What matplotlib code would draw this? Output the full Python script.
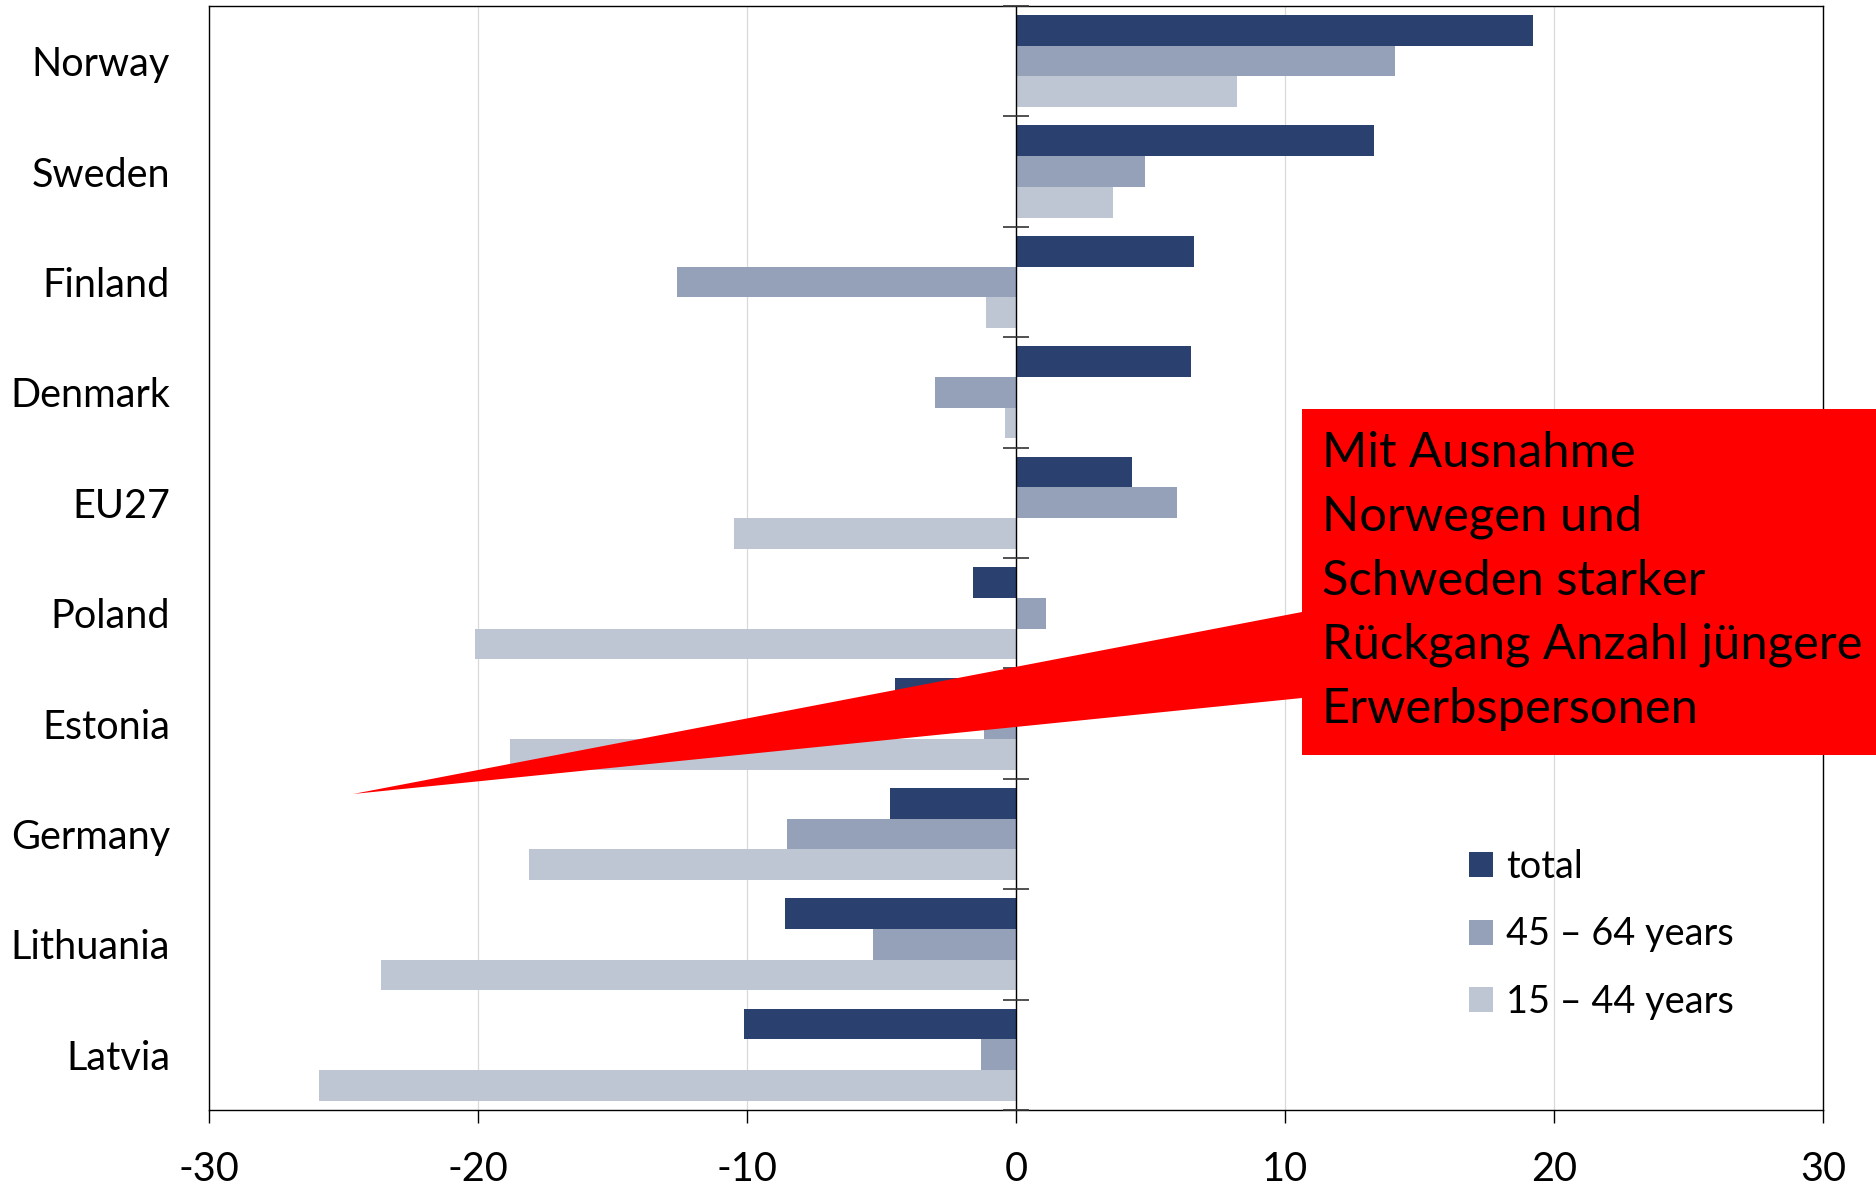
import numpy as np
import matplotlib.pyplot as plt
from matplotlib.patches import Patch, Polygon

plt.rcParams['font.family'] = ['Lato', 'DejaVu Sans']
plt.rcParams['axes.unicode_minus'] = False

countries = ['Norway', 'Sweden', 'Finland', 'Denmark', 'EU27',
             'Poland', 'Estonia', 'Germany', 'Lithuania', 'Latvia']
total = [19.2, 13.3, 6.6, 6.5, 4.3, -1.6, -4.5, -4.7, -8.6, -10.1]
age_45_64 = [14.1, 4.8, -12.6, -3.0, 6.0, 1.1, -1.2, -8.5, -5.3, -1.3]
age_15_44 = [8.2, 3.6, -1.1, -0.4, -10.5, -20.1, -18.8, -18.1, -23.6, -25.9]

series_labels = ['total', '45 \u2013 64 years', '15 \u2013 44 years']
colors = ['#2A4170', '#95A1B8', '#BFC6D3']
note = ('Mit Ausnahme\nNorwegen und\nSchweden starker\n'
        'R\u00fcckgang Anzahl j\u00fcngere\nErwerbspersonen')

fig = plt.figure(figsize=(18.76, 11.85), dpi=100)
ax = fig.add_axes([0.1114, 0.0633, 0.8604, 0.9317])

y = np.arange(len(countries))
h = 0.278
for k, (vals, col) in enumerate(zip([total, age_45_64, age_15_44], colors)):
    ax.barh(y + (k - 1) * h, vals, height=h, color=col, linewidth=0)

ax.set_ylim(len(countries) - 0.5, -0.5)
ax.set_xlim(-30, 30)
ax.set_xticks(np.arange(-30, 31, 10))
ax.set_yticks(y)
ax.set_yticklabels(countries)
ax.tick_params(axis='y', length=0, pad=28, labelsize=28.5)
ax.tick_params(axis='x', direction='out', length=9.5, width=1, pad=20, labelsize=28.5)

ax.grid(axis='x', color='#D9D9D9', linewidth=0.9)
ax.set_axisbelow(True)
for s in ax.spines.values():
    s.set_color('black')
    s.set_linewidth(1)

# vertical zero axis with category separators
ax.axvline(0, color='black', linewidth=1, zorder=3)
bounds = np.arange(len(countries) + 1) - 0.5
ax.plot(np.zeros_like(bounds), bounds, linestyle='none', marker='_',
        markersize=19, markeredgewidth=1.2, color='#333333', zorder=3,
        clip_on=False)

handles = [Patch(facecolor=c, edgecolor='none') for c in colors]
ax.legend(handles, series_labels, loc='center left', bbox_to_anchor=(0.771, 0.159),
          frameon=False, fontsize=27.3, handlelength=0.64, handleheight=0.64,
          handletextpad=0.35, labelspacing=0.84, borderaxespad=0)

# red callout
W, H = fig.get_size_inches() * fig.dpi
tri = Polygon([(1302 / W, 1 - 612 / H), (353 / W, 1 - 794 / H), (1302 / W, 1 - 698 / H)],
              closed=True, transform=fig.transFigure, facecolor='#FF0000',
              edgecolor='none', zorder=5)
fig.patches.append(tri)
box = plt.Rectangle((1302 / W, 1 - 755 / H), (W - 1302) / W, 346 / H,
                    transform=fig.transFigure, facecolor='#FF0000',
                    edgecolor='none', zorder=5)
fig.patches.append(box)
fig.text(1322 / W, 1 - 581 / H, note, fontsize=35.2, color='black',
         va='center', ha='left', linespacing=1.55, zorder=6)

fig.savefig('out.png', dpi=100)
